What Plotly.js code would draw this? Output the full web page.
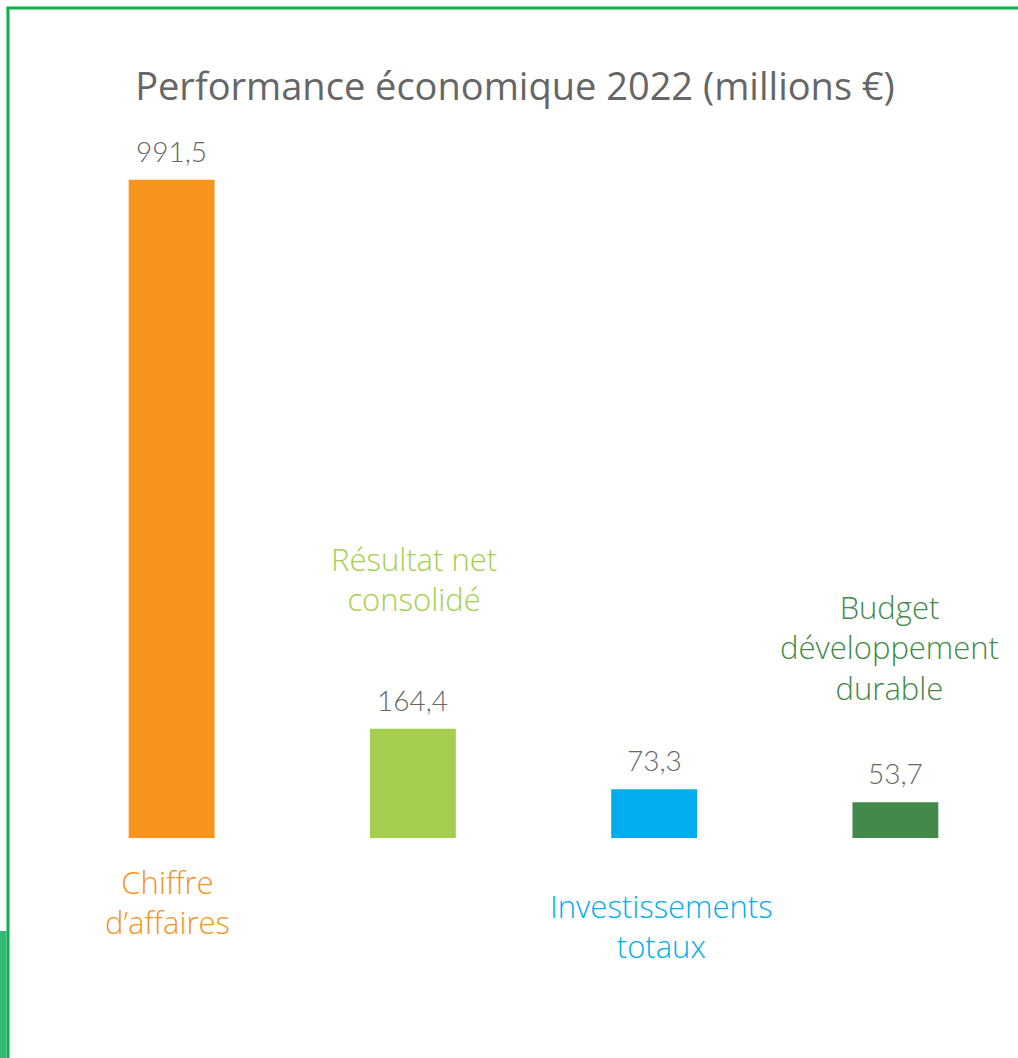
<!DOCTYPE html>
<html>
<head>
<meta charset="utf-8">
<script src="https://cdn.plot.ly/plotly-3.0.1.min.js"></script>
<style>
html,body{margin:0;padding:0;background:#fff;}
#chart{width:1018px;height:1058px;}
</style>
</head>
<body>
<div id="chart"></div>
<script>
const categories = ["Chiffre d'affaires", "Résultat net consolidé", "Investissements totaux", "Budget développement durable"];
const labelLines = ["Chiffre<br>d’affaires", "Résultat net<br>consolidé", "Investissements<br>totaux", "Budget<br>développement<br>durable"];
const values = [991.5, 164.4, 73.3, 53.7];
const valueLabels = ["991,5", "164,4", "73,3", "53,7"];
const colors = ["#F7941D", "#A6CE4E", "#00AEEF", "#438A4A"];

const W = 1018, H = 1058;
const ml = 51, mr = 2, mt = 174, mb = 220;
const pw = W - ml - mr, ph = H - mt - mb;
const px2x = px => (px - ml) / pw;
const py2y = py => (H - mb - py) / ph;

// label placement (layout only)
const labelY = [py2y(902), py2y(579), py2y(925.5), py2y(647)];
const labelShift = [-4, 1, 7, -6];

const annotations = [];
categories.forEach((c, i) => {
  annotations.push({
    x: c, y: values[i], xref: 'x', yref: 'y',
    text: valueLabels[i], showarrow: false,
    yanchor: 'bottom', yshift: 10,
    font: {family: 'Lato, sans-serif', size: 28, color: '#666666', weight: 300}
  });
  annotations.push({
    x: c, y: labelY[i], xref: 'x', yref: 'paper',
    text: labelLines[i], showarrow: false,
    xshift: labelShift[i], yanchor: 'middle', align: 'center',
    font: {family: '"Open Sans", sans-serif', size: 31, color: colors[i], weight: 300}
  });
});

const trace = {
  type: 'bar',
  x: categories,
  y: values,
  marker: {color: colors},
  width: 0.356,
  hoverinfo: 'x+y'
};

const layout = {
  width: W, height: H,
  margin: {l: ml, r: mr, t: mt, b: mb},
  paper_bgcolor: '#ffffff',
  plot_bgcolor: '#ffffff',
  showlegend: false,
  title: {
    text: 'Performance économique 2022 (millions €)',
    x: 515 / W, xref: 'container', xanchor: 'center',
    y: 1 - 87 / H, yref: 'container', yanchor: 'middle',
    font: {family: '"Open Sans", sans-serif', size: 38, color: '#666666'}
  },
  xaxis: {
    type: 'category', range: [-0.5, 3.5],
    showticklabels: false, showgrid: false, zeroline: false, showline: false, ticks: ''
  },
  yaxis: {
    range: [0, 1000],
    showticklabels: false, showgrid: false, zeroline: false, showline: false, ticks: ''
  },
  annotations: annotations,
  shapes: [
    {type: 'line', xref: 'paper', yref: 'paper', x0: px2x(8), x1: px2x(8), y0: py2y(7), y1: py2y(H + 5), line: {color: '#0DB04B', width: 3}},
    {type: 'line', xref: 'paper', yref: 'paper', x0: px2x(6.5), x1: px2x(W + 5), y0: py2y(8), y1: py2y(8), line: {color: '#0DB04B', width: 3}},
    {type: 'rect', xref: 'paper', yref: 'paper', x0: px2x(-2), x1: px2x(6.5), y0: py2y(931), y1: py2y(H + 5), fillcolor: '#34B874', line: {width: 0}}
  ]
};

Plotly.newPlot('chart', [trace], layout, {displayModeBar: false, staticPlot: true});
</script>
</body>
</html>
